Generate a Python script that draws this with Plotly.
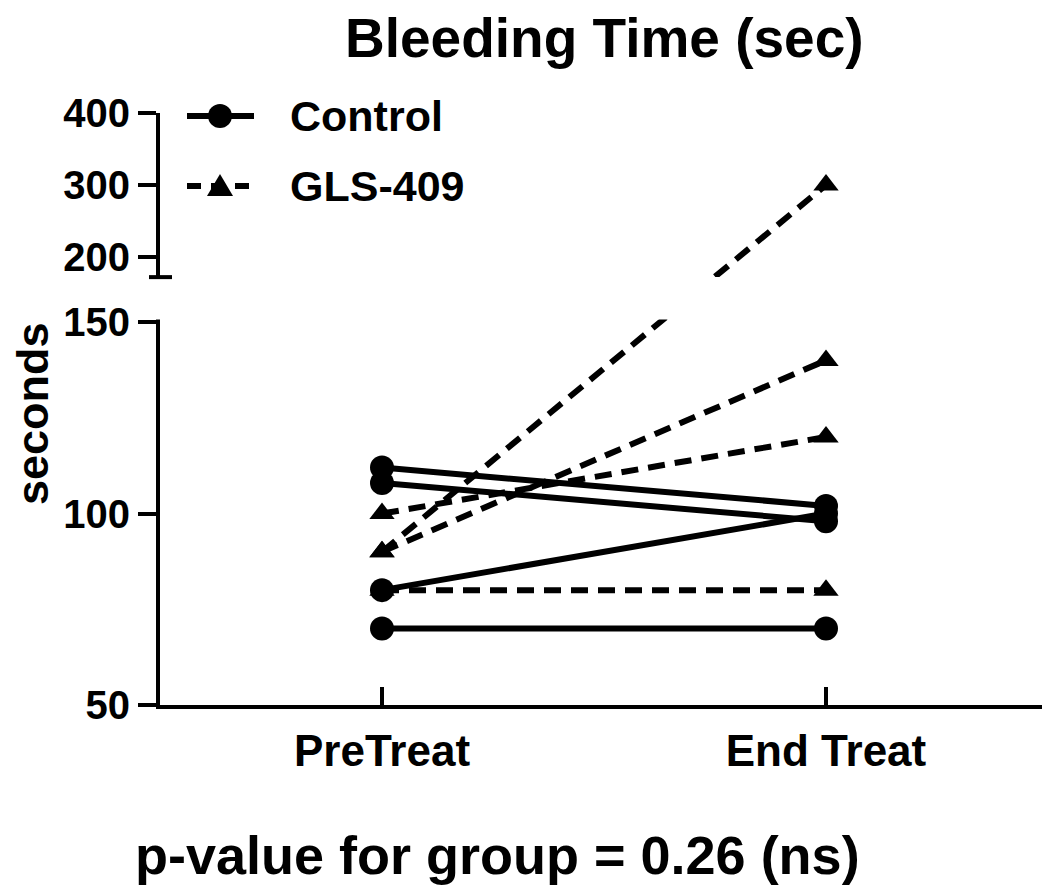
import plotly.graph_objects as go

# values
categories = ["PreTreat", "End Treat"]
control_pre = [112, 108, 80, 70]
control_end = [102, 98, 100, 70]
gls_pre = [100, 90, 90, 80]
gls_end = [120, 140, 300, 80]

lower_ticks = [50, 100, 150]
upper_ticks = [200, 300, 400]

# broken y axis: 50-150 at full scale, then a gap, then ~172-400 squeezed
LOW_TOP = 150
UP_BOT = 172
GAP = 11.75       # gap height, in lower-segment units
SQUEEZE = 0.188   # upper segment scale relative to the lower one


def yb(v):
    if v <= LOW_TOP:
        return v
    return LOW_TOP + GAP + (v - UP_BOT) * SQUEEZE


# page / margins (pixels); the html body adds an 8px offset
W, H = 1050, 891
OFF = 8
PW, PH = 888, 592
ML, MT = 160 - OFF, 113 - OFF
MR, MB = W - ML - PW, H - MT - PH
FONT = "Liberation Sans, Arial, sans-serif"


def px(x):
    return (x - OFF - ML) / PW


def py(y):
    return (OFF + MT + PH - y) / PH


fig = go.Figure()

# one trace per animal
for a, b in zip(control_pre, control_end):
    fig.add_trace(go.Scatter(
        x=categories, y=[yb(a), yb(b)], mode="lines+markers",
        line=dict(color="black", width=6),
        marker=dict(symbol="circle", size=24, color="black"),
        showlegend=False, hoverinfo="skip",
    ))

for a, b in zip(gls_pre, gls_end):
    fig.add_trace(go.Scatter(
        x=categories, y=[yb(a), yb(b)], mode="lines+markers",
        line=dict(color="black", width=6, dash="17px,10px"),
        marker=dict(symbol="triangle-up", size=22, color="black"),
        showlegend=False, hoverinfo="skip",
    ))

shapes = []
# hide the gap between the two axis segments
shapes.append(dict(type="rect", xref="paper", yref="y",
                   x0=px(148), x1=px(1049), y0=yb(LOW_TOP) + 0.7, y1=yb(UP_BOT),
                   fillcolor="white", line=dict(width=0), layer="above"))
# end cap of the upper segment
shapes.append(dict(type="line", xref="paper", yref="y",
                   x0=px(149), x1=px(172), y0=yb(UP_BOT), y1=yb(UP_BOT),
                   line=dict(color="black", width=4), layer="above"))

# hand drawn legend
leg_rows = [("Control", 116, "solid", "circle"), ("GLS-409", 186, "14px,10px", "triangle")]
annotations = []
for name, ly, dash, sym in leg_rows:
    shapes.append(dict(type="line", xref="paper", yref="paper",
                       x0=px(187), x1=px(254), y0=py(ly), y1=py(ly),
                       line=dict(color="black", width=6, dash=dash), layer="above"))
    if sym == "circle":
        shapes.append(dict(type="circle", xref="paper", yref="paper",
                           x0=px(208), x1=px(232), y0=py(ly - 12), y1=py(ly + 12),
                           fillcolor="black", line=dict(width=0), layer="above"))
    else:
        path = "M {} {} L {} {} L {} {} Z".format(
            px(207), py(ly + 10), px(233), py(ly + 10), px(220), py(ly - 12))
        shapes.append(dict(type="path", xref="paper", yref="paper", path=path,
                           fillcolor="black", line=dict(width=0), layer="above"))
    annotations.append(dict(text=name, xref="paper", yref="paper",
                            x=px(288), y=py(ly), xanchor="left", yanchor="middle",
                            showarrow=False,
                            font=dict(family=FONT, size=43, color="black", weight="bold")))

annotations.append(dict(text="Bleeding Time (sec)", xref="paper", yref="paper",
                        x=0.5, y=py(38), xanchor="center", yanchor="middle",
                        showarrow=False,
                        font=dict(family=FONT, size=55, color="black", weight="bold")))
annotations.append(dict(text="seconds", xref="paper", yref="paper",
                        x=px(32), y=py(414), xanchor="center", yanchor="middle",
                        textangle=-90, showarrow=False,
                        font=dict(family=FONT, size=45, color="black", weight="bold")))
annotations.append(dict(text="p-value for group = 0.26 (ns)", xref="paper", yref="paper",
                        x=px(133), y=py(855), xanchor="left", yanchor="middle",
                        showarrow=False,
                        font=dict(family=FONT, size=54, color="black", weight="bold")))

fig.update_layout(
    width=W, height=H,
    margin=dict(l=ML, r=MR, t=MT, b=MB, pad=0),
    paper_bgcolor="white", plot_bgcolor="white",
    showlegend=False,
    shapes=shapes, annotations=annotations,
    font=dict(family=FONT, color="black"),
)

fig.update_xaxes(
    type="category", range=[-0.5, 1.5],
    showgrid=False, zeroline=False,
    showline=True, linewidth=4, linecolor="black",
    ticks="inside", ticklen=18, tickwidth=4, tickcolor="black",
    tickfont=dict(family=FONT, size=44, color="black", weight="bold"),
    ticklabelstandoff=4,
)

all_ticks = lower_ticks + upper_ticks
fig.update_yaxes(
    range=[50, yb(400)],
    tickmode="array", tickvals=[yb(t) for t in all_ticks], ticktext=[str(t) for t in all_ticks],
    showgrid=False, zeroline=False,
    showline=True, linewidth=4, linecolor="black",
    ticks="outside", ticklen=18, tickwidth=4, tickcolor="black",
    tickfont=dict(family=FONT, size=40, color="black", weight="bold"),
    ticklabelstandoff=0,
)

fig.write_html("out.html")
